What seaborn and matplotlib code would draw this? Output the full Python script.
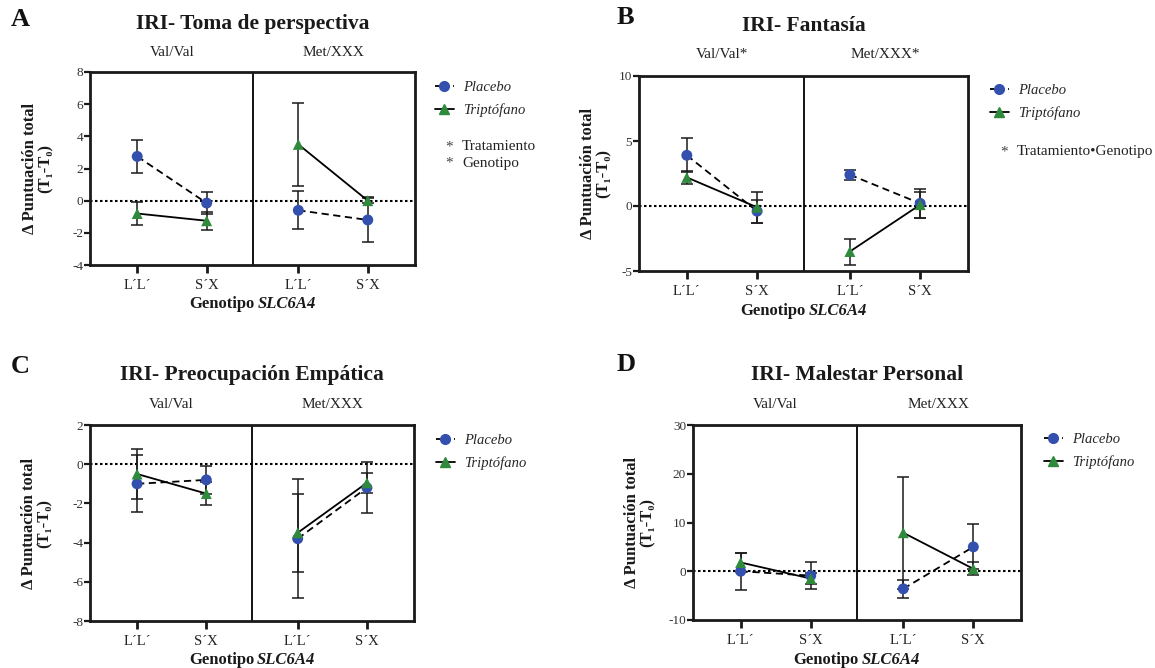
import numpy as np
import pandas as pd
import matplotlib
matplotlib.use("Agg")
import matplotlib.pyplot as plt
from matplotlib.lines import Line2D
import seaborn as sns

# ---------------- data ----------------
categories = ["L´L´", "S´X"]
groups = ["Placebo", "Triptófano"]

titles = ["IRI- Toma de perspectiva", "IRI- Fantasía",
          "IRI- Preocupación Empática", "IRI- Malestar Personal"]
letters = ["A", "B", "C", "D"]
halves_A = ["Val/Val", "Met/XXX"]
halves_B = ["Val/Val*", "Met/XXX*"]
halves_C = ["Val/Val", "Met/XXX"]
halves_D = ["Val/Val", "Met/XXX"]

# order: Val/Val L'L', Val/Val S'X, Met/XXX L'L', Met/XXX S'X
placebo_A = [2.75, -0.15, -0.6, -1.2]
placebo_A_err = [1.0, 0.7, 1.17, 1.4]
trip_A = [-0.8, -1.25, 3.5, 0.0]
trip_A_err = [0.7, 0.55, 2.6, 0.15]

placebo_B = [3.9, -0.4, 2.4, 0.2]
placebo_B_err = [1.3, 0.9, 0.4, 1.1]
trip_B = [2.2, -0.1, -3.5, 0.1]
trip_B_err = [0.5, 1.2, 1.0, 1.0]

placebo_C = [-1.0, -0.8, -3.8, -1.2]
placebo_C_err = [1.45, 0.7, 3.05, 1.3]
trip_C = [-0.5, -1.5, -3.5, -0.95]
trip_C_err = [1.3, 0.6, 2.0, 0.5]

placebo_D = [0.0, -0.9, -3.6, 5.0]
placebo_D_err = [3.8, 2.7, 1.8, 4.6]
trip_D = [1.8, -1.5, 7.9, 0.5]
trip_D_err = [2.0, 1.2, 11.5, 1.3]

yticks_A = [-4, -2, 0, 2, 4, 6, 8]
yticks_B = [-5, 0, 5, 10]
yticks_C = [-8, -6, -4, -2, 0, 2]
yticks_D = [-10, 0, 10, 20, 30]

notes_A = ["Tratamiento", "Genotipo"]
notes_B = ["Tratamiento•Genotipo"]

# ---------------- style ----------------
sns.set_theme(style="ticks")
SERIF = ["Liberation Serif", "DejaVu Serif"]
plt.rcParams["font.family"] = SERIF
plt.rcParams["axes.unicode_minus"] = False

BLUE = "#3450ae"
GREEN = "#2f8a3c"
W, H = 1155, 668

fig = plt.figure(figsize=(W / 100, H / 100), dpi=100)


def fx(px):
    return px / W


def fy(py):
    return 1 - py / H


BLOCK = 2.32   # offset of the second genotype block (category units)
MARGIN = 0.68  # space between frame and outer categories

panels = [
    dict(letter="A", title=titles[0], halves=halves_A, pl=placebo_A, ple=placebo_A_err,
         tr=trip_A, tre=trip_A_err, yt=yticks_A, notes=notes_A,
         box=(90, 72, 415, 265), ylab_x=38, letter_xy=(20, 20), title_y=24,
         sub_y=53, leg=(435, 92), xlab_y=304),
    dict(letter="B", title=titles[1], halves=halves_B, pl=placebo_B, ple=placebo_B_err,
         tr=trip_B, tre=trip_B_err, yt=yticks_B, notes=notes_B,
         box=(639, 76, 968, 271), ylab_x=596, letter_xy=(625, 18), title_y=26,
         sub_y=55, leg=(990, 95), xlab_y=311),
    dict(letter="C", title=titles[2], halves=halves_C, pl=placebo_C, ple=placebo_C_err,
         tr=trip_C, tre=trip_C_err, yt=yticks_C, notes=[],
         box=(90, 425, 414, 621), ylab_x=37, letter_xy=(20, 366), title_y=375,
         sub_y=404, leg=(436, 445), xlab_y=660),
    dict(letter="D", title=titles[3], halves=halves_D, pl=placebo_D, ple=placebo_D_err,
         tr=trip_D, tre=trip_D_err, yt=yticks_D, notes=[],
         box=(693, 425, 1021, 620), ylab_x=640, letter_xy=(626, 365), title_y=375,
         sub_y=404, leg=(1044, 444), xlab_y=660),
]

for p in panels:
    x0, y0, x1, y1 = p["box"]
    ax = fig.add_axes([fx(x0), fy(y1), (x1 - x0) / W, (y1 - y0) / H])

    rows = []
    for g, vals, errs in [("Placebo", p["pl"], p["ple"]), ("Triptófano", p["tr"], p["tre"])]:
        for i, (v, e) in enumerate(zip(vals, errs)):
            h = i // 2
            c = i % 2
            rows.append(dict(group=g, half=p["halves"][h], cat=categories[c],
                             pos=c + h * BLOCK, value=v, err=e))
    df = pd.DataFrame(rows)

    # reference line at 0
    ax.axhline(0, color="black", lw=1.5, ls=(0, (1.2, 1.2)), zorder=1)

    # error bars
    ax.errorbar(df["pos"], df["value"], yerr=df["err"], fmt="none",
                ecolor="#1a1a1a", elinewidth=1.1, capsize=4, capthick=1.1, zorder=2)

    # black connecting lines within each genotype block
    sns.lineplot(data=df, x="pos", y="value", style="group", units="half",
                 estimator=None, color="black", lw=1.3,
                 dashes={"Placebo": (4, 2.5), "Triptófano": ""},
                 legend=False, ax=ax, zorder=3, sort=True)

    # coloured markers
    sns.scatterplot(data=df, x="pos", y="value", hue="group", style="group",
                    markers={"Placebo": "o", "Triptófano": "^"},
                    palette={"Placebo": BLUE, "Triptófano": GREEN},
                    s=62, linewidth=0, legend=False, ax=ax, zorder=4)

    # divider between genotype blocks
    ax.axvline((1 + BLOCK) / 2, color="black", lw=1.3, zorder=1)

    # axes limits / ticks
    yt = p["yt"]
    ax.set_ylim(yt[0], yt[-1])
    ax.set_yticks(yt)
    ax.set_yticklabels([str(t) for t in yt])
    xmin, xmax = -MARGIN, 1 + BLOCK + MARGIN
    ax.set_xlim(xmin, xmax)
    ax.set_xticks([0, 1, BLOCK, 1 + BLOCK])
    ax.set_xticklabels(categories * 2)
    ax.set_xlabel("")
    ax.set_ylabel("")
    for s in ax.spines.values():
        s.set_visible(True)
        s.set_linewidth(2.0)
        s.set_color("#1a1a1a")
    ax.tick_params(axis="y", direction="out", length=4, width=1.6, labelsize=9.5,
                   pad=1, colors="#1a1a1a", labelcolor="#333333")
    ax.tick_params(axis="x", direction="out", length=6, width=2.0, labelsize=10.5,
                   pad=4, colors="#1a1a1a", labelcolor="#222222")
    ax.grid(False)

    # panel letter and title
    lx, ly = p["letter_xy"]
    fig.text(fx(lx), fy(ly), p["letter"], fontsize=19, fontweight="bold",
             ha="center", va="center", color="#111111")
    xc = (x0 + x1) / 2
    fig.text(fx(xc), fy(p["title_y"]), p["title"], fontsize=15.5, fontweight="bold",
             ha="center", va="center", color="#1a1a1a")

    # genotype block labels
    axw = x1 - x0
    for h, lab in enumerate(p["halves"]):
        cx = x0 + axw * (0.5 + h * BLOCK - xmin) / (xmax - xmin)
        fig.text(fx(cx), fy(p["sub_y"]), lab, fontsize=11, ha="center", va="center",
                 color="#222222")

    # y label
    fig.text(fx(p["ylab_x"]), fy((y0 + y1) / 2), "Δ Puntuación total\n(T₁-T₀)",
             rotation=90, fontsize=12, fontweight="bold", ha="center", va="center",
             multialignment="center", linespacing=1.0, color="#1a1a1a")

    # x label: "Genotipo " bold + "SLC6A4" bold italic
    split = xc + 4
    fig.text(fx(split - 2), fy(p["xlab_y"]), "Genotipo", fontsize=12, fontweight="bold",
             ha="right", va="center", color="#1a1a1a")
    fig.text(fx(split + 1), fy(p["xlab_y"]), "SLC6A4", fontsize=12, fontweight="bold",
             style="italic", ha="left", va="center", color="#1a1a1a")

    # legend
    lgx, lgy = p["leg"]
    handles = [
        Line2D([0], [0], color="black", lw=1.3, ls=(0, (3, 2)), marker="o",
               markerfacecolor=BLUE, markeredgecolor=BLUE, markersize=7),
        Line2D([0], [0], color="black", lw=1.3, ls="-", marker="^",
               markerfacecolor=GREEN, markeredgecolor=GREEN, markersize=7),
    ]
    fig.legend(handles, groups, loc="upper left",
               bbox_to_anchor=(fx(lgx), fy(lgy - 11)), bbox_transform=fig.transFigure,
               frameon=False, prop={"family": SERIF, "style": "italic", "size": 10.5},
               handlelength=1.3, handletextpad=0.6, labelspacing=0.62,
               borderpad=0, borderaxespad=0)

    # significance notes
    for k, note in enumerate(p["notes"]):
        ny = lgy + 55 + 16 * k if p["letter"] == "A" else lgy + 57 + 16 * k
        fig.text(fx(lgx + 14), fy(ny), "*", fontsize=11, ha="center", va="center",
                 color="#444444")
        fig.text(fx(lgx + 27), fy(ny), note, fontsize=11, ha="left", va="center",
                 color="#222222")

fig.savefig("out.png", dpi=100)
